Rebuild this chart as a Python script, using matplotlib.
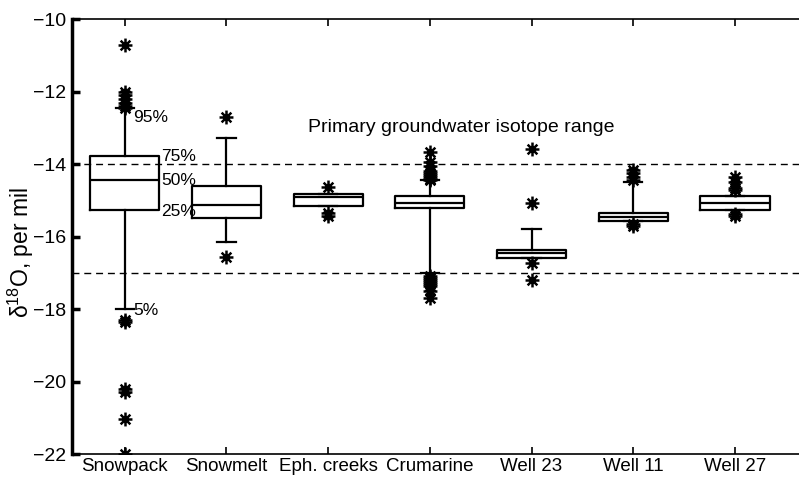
import matplotlib.pyplot as plt
from matplotlib.path import Path

plt.rcParams['font.family'] = ['Liberation Sans', 'DejaVu Sans']
plt.rcParams['mathtext.fontset'] = 'custom'
plt.rcParams['mathtext.rm'] = 'Liberation Sans'

# Box statistics per site (delta 18O, per mil)
sites = ['Snowpack', 'Snowmelt', 'Eph. creeks', 'Crumarine', 'Well 23', 'Well 11', 'Well 27']
q1 = [-15.27, -15.48, -15.15, -15.22, -16.60, -15.58, -15.27]
med = [-14.44, -15.13, -14.92, -15.08, -16.46, -15.45, -15.08]
q3 = [-13.78, -14.60, -14.83, -14.87, -16.37, -15.36, -14.87]
whislo = [-18.00, -16.14, -15.15, -17.00, -16.60, -15.58, -15.27]
whishi = [-12.45, -13.27, -14.83, -14.45, -15.79, -14.50, -14.87]
fliers = [
    [-10.72, -12.00, -12.10, -12.20, -12.30, -12.40, -12.45,
     -18.30, -18.35, -20.20, -20.30, -21.03, -22.00],
    [-12.69, -16.56],
    [-14.64, -15.36, -15.43],
    [-13.66, -13.95, -14.05, -14.20, -14.25, -14.30, -14.35, -14.40, -14.45,
     -17.10, -17.15, -17.20, -17.25, -17.30, -17.35, -17.50, -17.68],
    [-13.57, -15.06, -16.72, -17.20],
    [-14.17, -14.25, -14.35, -14.45, -15.65, -15.72],
    [-14.35, -14.50, -14.65, -14.72, -15.38, -15.42],
]

# primary groundwater isotope range
gw_range = [-14.0, -17.0]

stats = []
for i in range(len(sites)):
    stats.append(dict(label=sites[i], q1=q1[i], med=med[i], q3=q3[i],
                      whislo=whislo[i], whishi=whishi[i], fliers=fliers[i]))

# 8-armed asterisk like the MATLAB '*' marker
star = Path([(0, -1), (0, 1), (-1, 0), (1, 0),
             (-0.7, -0.7), (0.7, 0.7), (-0.7, 0.7), (0.7, -0.7)],
            [Path.MOVETO, Path.LINETO] * 4)

fig = plt.figure(figsize=(7.99, 4.79), dpi=100)
ax = fig.add_axes([0.090, 0.052, 0.910, 0.908])

lw = 1.6
ax.bxp(stats, positions=range(1, 8), widths=0.68, capwidths=0.18,
       boxprops=dict(color='k', linewidth=lw),
       medianprops=dict(color='k', linewidth=lw),
       whiskerprops=dict(color='k', linewidth=lw, linestyle='-'),
       capprops=dict(color='k', linewidth=lw),
       flierprops=dict(marker=star, markersize=10, markeredgewidth=1.8,
                       markeredgecolor='k', markerfacecolor='none'))

for yv in gw_range:
    ax.axhline(yv, color='k', linestyle=(0, (5, 3.5)), linewidth=1.0, zorder=1)

ax.text(4.31, -12.98, 'Primary groundwater isotope range', ha='center', va='center',
        fontsize=14)

# percentile labels on the snowpack box
fs = 12.5
ax.text(1.08, whishi[0] - 0.25, '95%', ha='left', va='center', fontsize=fs)
ax.text(1.355, q3[0] - 0.02, '75%', ha='left', va='center', fontsize=fs)
ax.text(1.355, med[0], '50%', ha='left', va='center', fontsize=fs)
ax.text(1.355, q1[0] - 0.03, '25%', ha='left', va='center', fontsize=fs)
ax.text(1.08, whislo[0] - 0.05, '5%', ha='left', va='center', fontsize=fs)

ax.set_xlim(0.48, 7.63)
ax.set_ylim(-22, -10)
ax.set_yticks(range(-22, -9, 2))
ax.set_yticklabels(['\u2212%d' % abs(v) for v in range(-22, -9, 2)])
ax.set_xticks(range(1, 8))
ax.set_xticklabels(sites)

ax.tick_params(axis='x', direction='in', top=True, length=5, width=1.2,
               labelsize=13.5, pad=3)
ax.tick_params(axis='y', direction='in', length=6, width=2.5, labelsize=14, pad=4)

ax.spines['left'].set_linewidth(2.5)
ax.spines['bottom'].set_linewidth(1.2)
ax.spines['top'].set_linewidth(1.2)
ax.spines['right'].set_visible(False)

ax.set_ylabel('\u03b4$^{18}$O, per mil', fontsize=16.5)
ax.yaxis.set_label_coords(-0.050, 0.464)

fig.savefig('out.png', dpi=100)
